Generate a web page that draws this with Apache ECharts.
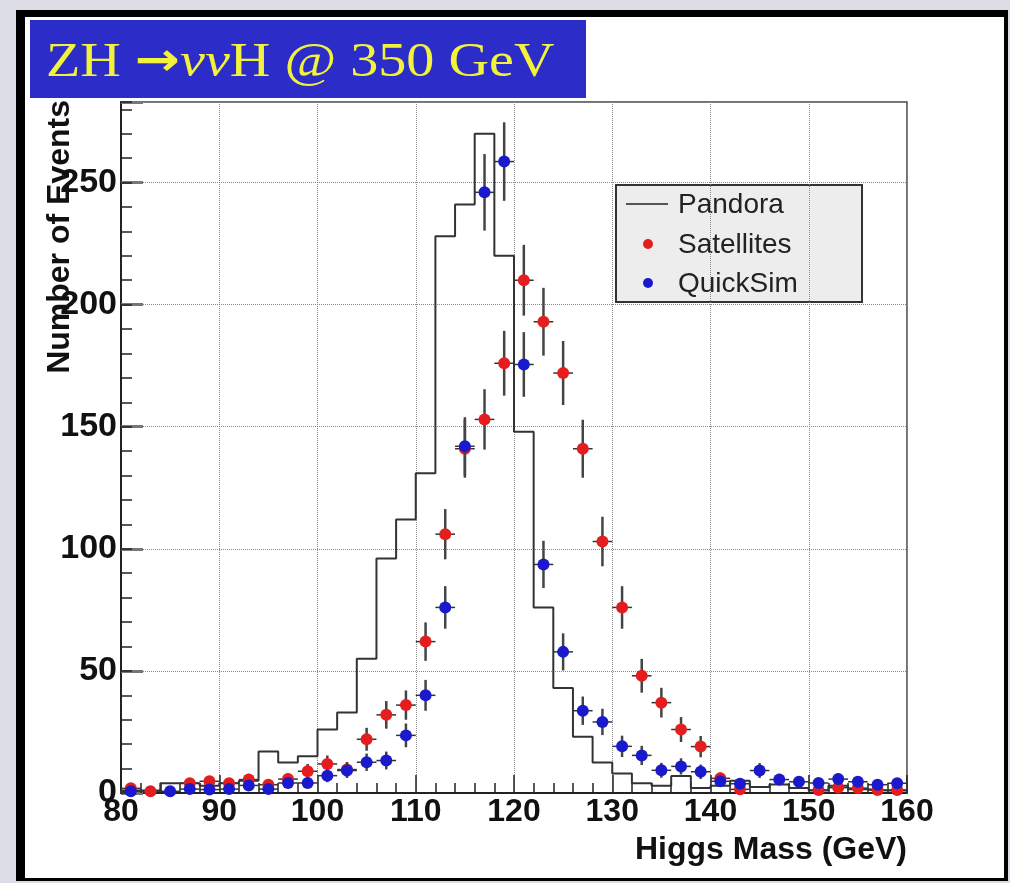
<!DOCTYPE html>
<html>
<head>
<meta charset="utf-8">
<script src="https://cdn.jsdelivr.net/npm/echarts@6/dist/echarts.min.js"></script>
<style>
  html, body { margin: 0; padding: 0; width: 1010px; height: 883px; background: #dcdce6; overflow: hidden; }
  #frame {
    position: absolute; left: 16px; top: 10px; width: 979px; height: 861px;
    background: #fff; border-style: solid; border-color: #000; border-width: 7px 4px 3px 9px;
  }
  #chart { position: absolute; left: 0; top: 0; width: 1010px; height: 883px; }
</style>
</head>
<body>
<div id="frame"></div>
<div id="chart"></div>
<script>
// bin centres (GeV), 2 GeV bins from 80 to 160
const massCentres = [81, 83, 85, 87, 89, 91, 93, 95, 97, 99,
  101, 103, 105, 107, 109, 111, 113, 115, 117, 119,
  121, 123, 125, 127, 129, 131, 133, 135, 137, 139,
  141, 143, 145, 147, 149, 151, 153, 155, 157, 159];
const binHalfWidth = 1;

// Pandora histogram contents
const pandora = [1, 1, 4, 4, 3, 4, 5, 17, 12.5, 15,
  26, 33, 55, 96, 112, 131, 228, 241, 270, 220,
  148, 76, 43, 23, 12.5, 8, 4, 3, 7, 2,
  3, 5, 2.5, 3.5, 2, 1, 3, 1.5, 1, 1];

// Satellites points (null = empty bin, not drawn)
const satellites = [1.9, 0.7, null, 4, 4.8, 4, 5.5, 3.4, 5.7, 8.9,
  11.9, 9.6, 22, 32, 36, 62, 106, 141, 153, 176,
  210, 193, 172, 141, 103, 76, 48, 37, 26, 19,
  6, 1.5, null, null, null, 1.2, 2.2, 2, 1.2, 1.2];

// QuickSim points
const quickSim = [0.7, null, 0.7, 1.6, 1.4, 1.6, 3.1, 1.6, 4.1, 4.1,
  7.1, 9.2, 12.6, 13.3, 23.6, 40, 76, 142, 246, 258.6,
  175.5, 93.6, 57.8, 33.7, 29.1, 19.1, 15.4, 9.3, 10.9, 8.7,
  4.8, 3.8, 9.2, 5.5, 4.6, 4.1, 5.7, 4.6, 3.4, 4];

const xTicks = { min: 80, max: 160, step: 10 };
const yTicks = { min: 0, max: 283, step: 50 };

const RED = '#e41e1e';
const BLUE = '#1a1acc';
const FONT = '"Liberation Sans", Arial, Helvetica, sans-serif';

// histogram outline as step line through lower bin edges
function histPoints(values) {
  const pts = [[massCentres[0] - binHalfWidth, 0]];
  values.forEach((v, i) => pts.push([massCentres[i] - binHalfWidth, v]));
  pts.push([massCentres[massCentres.length - 1] + binHalfWidth, 0]);
  return pts;
}

// points with Poisson (sqrt N) errors, as drawn in the original
function pointData(values) {
  const out = [];
  values.forEach((v, i) => {
    if (v !== null) out.push([massCentres[i], v, Math.sqrt(v)]);
  });
  return out;
}

function errorBarItem(params, api) {
  const x = api.value(0), y = api.value(1), e = api.value(2);
  const l = api.coord([x - binHalfWidth, y]);
  const r = api.coord([x + binHalfWidth, y]);
  const t = api.coord([x, y + e]);
  const b = api.coord([x, Math.max(0, y - e)]);
  return {
    type: 'group',
    children: [
      { type: 'line', shape: { x1: l[0], y1: l[1], x2: r[0], y2: r[1] }, style: { stroke: '#333', lineWidth: 1.5 } },
      { type: 'line', shape: { x1: t[0], y1: t[1], x2: b[0], y2: b[1] }, style: { stroke: '#444', lineWidth: 2.5 } }
    ]
  };
}

const chart = echarts.init(document.getElementById('chart'));

const option = {
  backgroundColor: 'transparent',
  animation: false,
  grid: {
    left: 121, top: 102, width: 786, height: 691,
    show: true, borderColor: '#444', borderWidth: 1.5, backgroundColor: 'transparent'
  },
  xAxis: {
    type: 'value',
    min: xTicks.min, max: xTicks.max, interval: xTicks.step,
    axisLine: { show: true, onZero: false, lineStyle: { color: '#222', width: 2 } },
    axisTick: { show: true, inside: true, length: 18, lineStyle: { color: '#222', width: 1.5 } },
    minorTick: { show: true, splitNumber: 5, length: 10, lineStyle: { color: '#222', width: 1.5 } },
    axisLabel: { color: '#111', fontFamily: FONT, fontWeight: 'bold', fontSize: 32, margin: 3 },
    splitLine: { show: true, lineStyle: { color: '#888', type: 'dotted', width: 1 } }
  },
  yAxis: [
    {
      type: 'value',
      min: yTicks.min, max: yTicks.max, interval: yTicks.step,
      axisLine: { show: true, lineStyle: { color: '#222', width: 2 } },
      axisTick: { show: true, inside: true, length: 22, lineStyle: { color: '#777', width: 3 } },
      axisLabel: {
        color: '#111', fontFamily: FONT, fontWeight: 'bold', fontSize: 34, margin: 4,
        formatter: v => (v % yTicks.step === 0 ? String(v) : '')
      },
      splitLine: { show: true, lineStyle: { color: '#888', type: 'dotted', width: 1 } }
    },
    {
      // minor ticks every 10 events
      type: 'value',
      position: 'left',
      min: yTicks.min, max: yTicks.max, interval: 10,
      axisLine: { show: false },
      axisTick: { show: true, inside: true, length: 11, lineStyle: { color: '#222', width: 1.5 } },
      axisLabel: { show: false },
      splitLine: { show: false }
    }
  ],
  series: [
    {
      name: 'Pandora',
      type: 'line',
      step: 'end',
      data: histPoints(pandora),
      showSymbol: false,
      lineStyle: { color: '#333', width: 2 },
      z: 2
    },
    {
      name: 'Satellites errors',
      type: 'custom',
      renderItem: errorBarItem,
      data: pointData(satellites),
      clip: true,
      z: 3
    },
    {
      name: 'Satellites',
      type: 'scatter',
      data: pointData(satellites),
      symbolSize: 12,
      itemStyle: { color: RED, opacity: 1 },
      z: 4
    },
    {
      name: 'QuickSim errors',
      type: 'custom',
      renderItem: errorBarItem,
      data: pointData(quickSim),
      clip: true,
      z: 5
    },
    {
      name: 'QuickSim',
      type: 'scatter',
      data: pointData(quickSim),
      symbolSize: 12,
      itemStyle: { color: BLUE, opacity: 1 },
      z: 6
    }
  ],
  graphic: {
    elements: [
      // title banner
      { type: 'rect', z: 10, shape: { x: 30, y: 20, width: 556, height: 78 }, style: { fill: '#2c2cc8' } },
      {
        type: 'text', z: 11, x: 46, y: 63, scaleX: 1.17,
        style: {
          text: 'ZH {a|→}{b|νν}H @ 350 GeV', fill: '#f2f23c',
          font: '48px "Liberation Serif", "DejaVu Serif", serif', verticalAlign: 'middle',
          rich: {
            a: { fontFamily: '"DejaVu Sans", sans-serif', fontWeight: 'bold', fontSize: 46, fill: '#f2f23c' },
            b: { fontFamily: '"Liberation Serif", serif', fontStyle: 'italic', fontSize: 48, fill: '#f2f23c' }
          }
        }
      },
      // axis titles
      {
        type: 'text', z: 10, x: 60, y: 100, rotation: Math.PI / 2,
        style: {
          text: 'Number of Events', fill: '#111',
          font: 'bold 32px ' + FONT, align: 'right', verticalAlign: 'middle'
        }
      },
      {
        type: 'text', z: 10, x: 907, y: 850,
        style: {
          text: 'Higgs Mass (GeV)', fill: '#111',
          font: 'bold 32px ' + FONT, align: 'right', verticalAlign: 'middle'
        }
      },
      // legend box
      {
        type: 'group', z: 10,
        children: [
          { type: 'rect', shape: { x: 616, y: 185, width: 246, height: 117 }, style: { fill: '#ededed', stroke: '#333', lineWidth: 2 } },
          { type: 'line', shape: { x1: 626, y1: 204, x2: 668, y2: 204 }, style: { stroke: '#555', lineWidth: 2 } },
          { type: 'circle', shape: { cx: 648, cy: 244, r: 5 }, style: { fill: RED } },
          { type: 'circle', shape: { cx: 648, cy: 283, r: 5 }, style: { fill: BLUE } },
          { type: 'text', x: 678, y: 205, style: { text: 'Pandora', fill: '#222', font: '28px ' + FONT, verticalAlign: 'middle' } },
          { type: 'text', x: 678, y: 245, style: { text: 'Satellites', fill: '#222', font: '28px ' + FONT, verticalAlign: 'middle' } },
          { type: 'text', x: 678, y: 284, style: { text: 'QuickSim', fill: '#222', font: '28px ' + FONT, verticalAlign: 'middle' } }
        ]
      }
    ]
  }
};

chart.setOption(option);
</script>
</body>
</html>
